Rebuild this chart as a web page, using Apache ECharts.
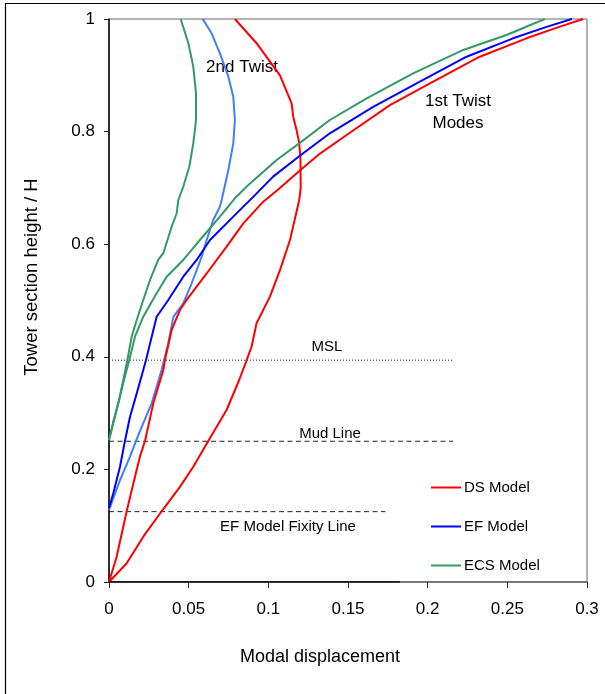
<!DOCTYPE html>
<html>
<head>
<meta charset="utf-8">
<script src="https://cdn.jsdelivr.net/npm/echarts@6/dist/echarts.min.js"></script>
<style>
  html, body { margin: 0; padding: 0; background: #fff; }
  #chart { width: 605px; height: 694px; }
</style>
</head>
<body>
<div id="chart"></div>
<script>
// ---- Data (x = modal displacement, y = tower section height / H) ----
const xTicks = [0, 0.05, 0.1, 0.15, 0.2, 0.25, 0.3];
const yTicks = [0, 0.2, 0.4, 0.6, 0.8, 1];

// 1st twist modes
const dsTwist1 = [[0,0],[0.0048,0.045],[0.0111,0.1256],[0.0153,0.1753],[0.0194,0.2226],[0.0226,0.2504],[0.0278,0.3174],[0.0341,0.3766],[0.0351,0.394],[0.0393,0.4476],[0.0445,0.483],[0.0487,0.501],[0.0613,0.548],[0.0738,0.5956],[0.0843,0.637],[0.0968,0.6755],[0.1056,0.696],[0.1198,0.731],[0.1324,0.761],[0.1491,0.794],[0.1763,0.847],[0.2014,0.8858],[0.2327,0.933],[0.262,0.9657],[0.283,0.9864],[0.2976,1.0]];
const efTwist1 = [[0,0.131],[0.0027,0.1575],[0.0069,0.2048],[0.01,0.2504],[0.0132,0.2936],[0.0174,0.335],[0.0215,0.3766],[0.0232,0.394],[0.0268,0.4357],[0.0299,0.4712],[0.0372,0.5009],[0.0466,0.5423],[0.055,0.572],[0.0634,0.6075],[0.078,0.649],[0.0905,0.684],[0.103,0.72],[0.1198,0.757],[0.1386,0.797],[0.1658,0.844],[0.1951,0.8887],[0.2244,0.933],[0.2536,0.9657],[0.2746,0.986],[0.2905,1.0]];
const ecsTwist1 = [[0,0.2522],[0.0027,0.282],[0.0059,0.3174],[0.0094,0.3588],[0.0127,0.394],[0.0163,0.4357],[0.0215,0.4712],[0.0299,0.5128],[0.0362,0.5423],[0.0466,0.572],[0.0571,0.6075],[0.0696,0.649],[0.079,0.6815],[0.0885,0.708],[0.1052,0.7496],[0.1198,0.78],[0.1386,0.8206],[0.1617,0.859],[0.1909,0.9035],[0.2223,0.945],[0.2495,0.9716],[0.2735,1.0]];

// 2nd twist modes
const dsTwist2 = [[0,0],[0.0111,0.0332],[0.0215,0.0805],[0.033,0.1256],[0.0445,0.169],[0.0529,0.2048],[0.0623,0.2504],[0.0738,0.3055],[0.0817,0.3588],[0.0864,0.394],[0.0895,0.418],[0.0926,0.4595],[0.101,0.5068],[0.1073,0.554],[0.1136,0.6075],[0.1194,0.6785],[0.1203,0.7],[0.1202,0.7496],[0.1194,0.779],[0.1177,0.803],[0.1156,0.8265],[0.1146,0.85],[0.1073,0.9],[0.0926,0.957],[0.079,1.0]];
const efTwist2 = [[0,0.128],[0.0069,0.181],[0.0132,0.2226],[0.0169,0.2504],[0.0215,0.282],[0.0268,0.3174],[0.033,0.3766],[0.0372,0.424],[0.0404,0.471],[0.0466,0.495],[0.0519,0.5306],[0.0582,0.578],[0.0613,0.6075],[0.0654,0.643],[0.0696,0.6666],[0.0707,0.6785],[0.0749,0.7318],[0.078,0.779],[0.079,0.8206],[0.078,0.862],[0.0749,0.8975],[0.0696,0.939],[0.0644,0.9746],[0.0588,1.0]];
const ecsTwist2 = [[0,0.2522],[0.0027,0.285],[0.006,0.32],[0.009,0.3588],[0.0115,0.394],[0.0142,0.4357],[0.0174,0.4654],[0.0215,0.5009],[0.0257,0.536],[0.0309,0.572],[0.0341,0.584],[0.0393,0.631],[0.0425,0.655],[0.0435,0.6785],[0.0466,0.702],[0.0504,0.7377],[0.0529,0.779],[0.0546,0.8206],[0.0546,0.868],[0.0529,0.9153],[0.0498,0.957],[0.045,1.0]];

// Reference levels: [height, x extent]
const mslLevel = [0.394, 0.216];
const mudLevel = [0.25, 0.216];
const fixityLevel = [0.125, 0.1735];
const baseSegment = [0, 0.1826];

const legendNames = ['DS Model', 'EF Model', 'ECS Model'];

// ---- Chart ----
const FONT = '"Liberation Sans", Arial, sans-serif';
const chart = echarts.init(document.getElementById('chart'), null, { renderer: 'canvas' });

function curve(name, data, color) {
  return {
    name: name, type: 'line', data: data, symbol: 'none', showSymbol: false,
    smooth: false, animation: false, silent: true,
    lineStyle: { color: color, width: 2 }, itemStyle: { color: color }, z: 3
  };
}
function refLine(name, level, type, width, color) {
  return {
    name: name, type: 'line', data: [[0, level[0]], [level[1], level[0]]],
    symbol: 'none', animation: false, silent: true,
    lineStyle: { color: color, width: width, type: type }, z: 2
  };
}

const option = {
  animation: false,
  backgroundColor: '#fff',
  grid: { left: 109, right: 18, top: 19, bottom: 112, show: true, borderColor: '#666', borderWidth: 1 },
  xAxis: {
    type: 'value', min: xTicks[0], max: xTicks[xTicks.length - 1], interval: 0.05,
    splitLine: { show: false },
    axisLine: { onZero: false, lineStyle: { color: '#666', width: 1.5 } },
    axisTick: { show: true, length: 6, lineStyle: { color: '#222', width: 1 } },
    axisLabel: { margin: 19, fontSize: 17, color: '#000', fontFamily: FONT }
  },
  yAxis: {
    type: 'value', min: yTicks[0], max: yTicks[yTicks.length - 1], interval: 0.2,
    splitLine: { show: false },
    axisLine: { onZero: false, lineStyle: { color: '#000', width: 1.5 } },
    axisTick: { show: true, length: 5, lineStyle: { color: '#222', width: 1 } },
    axisLabel: { margin: 14, fontSize: 17, color: '#000', fontFamily: FONT }
  },
  legend: {
    data: legendNames, orient: 'vertical', left: 426, top: 475,
    itemWidth: 30, itemHeight: 14, itemGap: 24,
    icon: 'path://M0,6 L30,6 L30,8 L0,8 Z',
    textStyle: { fontSize: 15, color: '#000', fontFamily: FONT, padding: [0, 0, 0, -2] },
    selectedMode: false
  },
  series: [
    refLine('MSL', mslLevel, [1, 2], 1, '#222'),
    refLine('Mud Line', mudLevel, [5, 3.5], 1, '#222'),
    refLine('EF Model Fixity Line', fixityLevel, [5, 3.5], 1, '#222'),
    { name: 'base', type: 'line', data: [[baseSegment[0], 0], [baseSegment[1], 0]], symbol: 'none', silent: true,
      lineStyle: { color: '#000', width: 1.5 }, z: 4 },
    curve('DS Model 2nd', dsTwist2, '#FF0000'),
    curve('EF Model 2nd', efTwist2, '#3F7FFF'),
    curve('ECS Model 2nd', ecsTwist2, '#339966'),
    curve('DS Model', dsTwist1, '#FF0000'),
    curve('EF Model', efTwist1, '#0000FF'),
    curve('ECS Model', ecsTwist1, '#339966')
  ],
  graphic: [
    { type: 'rect', shape: { x: 5.5, y: 3.5, width: 800, height: 900 }, style: { fill: null, stroke: '#000', lineWidth: 1.2 }, silent: true, z: -1 },
    { type: 'text', x: 242, y: 67, style: { text: '2nd Twist', fontSize: 17, fontFamily: FONT, fill: '#000', textAlign: 'center', textVerticalAlign: 'middle' } },
    { type: 'text', x: 458, y: 112, style: { text: '1st Twist\nModes', fontSize: 17, lineHeight: 22, fontFamily: FONT, fill: '#000', textAlign: 'center', textVerticalAlign: 'middle' } },
    { type: 'text', x: 327, y: 347, style: { text: 'MSL', fontSize: 15, fontFamily: FONT, fill: '#000', textAlign: 'center', textVerticalAlign: 'middle' } },
    { type: 'text', x: 330, y: 434, style: { text: 'Mud Line', fontSize: 15, fontFamily: FONT, fill: '#000', textAlign: 'center', textVerticalAlign: 'middle' } },
    { type: 'text', x: 288, y: 527, style: { text: 'EF Model Fixity Line', fontSize: 15, fontFamily: FONT, fill: '#000', textAlign: 'center', textVerticalAlign: 'middle' } },
    { type: 'text', x: 320, y: 657, style: { text: 'Modal displacement', fontSize: 18, fontFamily: FONT, fill: '#000', textAlign: 'center', textVerticalAlign: 'middle' } },
    { type: 'text', x: 32, y: 277, rotation: Math.PI / 2, style: { text: 'Tower section height / H', fontSize: 18.5, fontFamily: FONT, fill: '#000', textAlign: 'center', textVerticalAlign: 'middle' } }
  ]
};
chart.setOption(option);
</script>
</body>
</html>
